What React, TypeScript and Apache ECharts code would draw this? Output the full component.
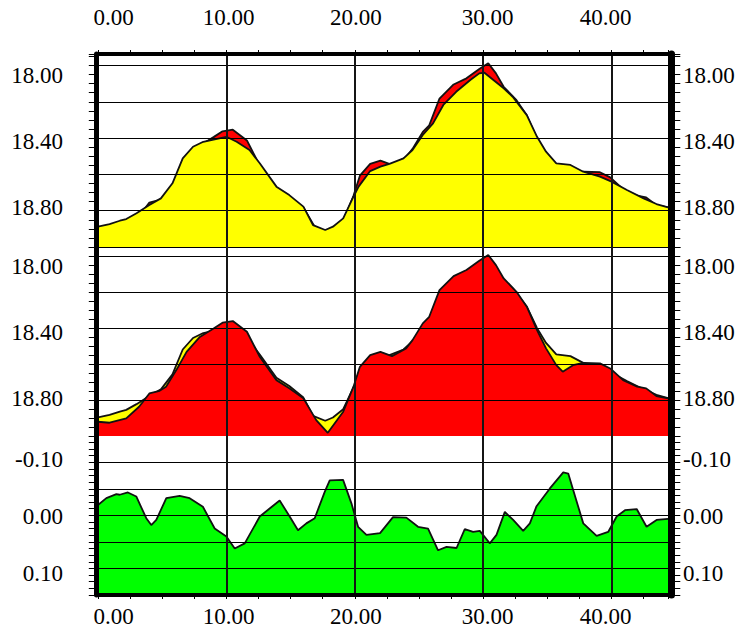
import React, { useEffect, useRef } from "react";
import * as echarts from "echarts";

// [x, value] pairs
const yellowPts: [number, number][] = [
  [0, 18.916], [0.9, 18.9], [1.7, 18.88], [2.2, 18.87], [3.0, 18.835], [4.0, 18.785], [4.9, 18.745],
  [5.8, 18.654], [6.6, 18.503], [7.4, 18.433], [8.2, 18.403], [9.0, 18.39], [10.0, 18.373], [10.8, 18.403],
  [11.8, 18.453], [12.6, 18.533], [13.9, 18.674], [14.9, 18.725], [16.0, 18.795], [16.75, 18.906],
  [17.7, 18.936], [18.3, 18.916], [19.1, 18.866], [19.9, 18.735], [20.3, 18.674], [21.2, 18.58],
  [22.0, 18.553], [22.7, 18.537], [23.8, 18.503], [24.5, 18.453], [25.3, 18.362], [26.1, 18.292],
  [26.9, 18.181], [27.9, 18.101], [29.0, 18.03], [29.7, 17.99], [30.1, 17.986], [30.8, 18.03],
  [31.6, 18.08], [32.3, 18.131], [33.4, 18.242], [34.2, 18.373], [34.9, 18.463], [35.7, 18.533],
  [36.8, 18.543], [37.8, 18.584], [39.1, 18.614], [40.0, 18.644], [41.2, 18.694], [42.5, 18.745],
  [43.5, 18.779], [44.4, 18.799],
];

const redPts: [number, number][] = [
  [0, 18.942], [0.9, 18.948], [2.2, 18.922], [3.2, 18.851], [4.0, 18.77], [4.8, 18.754], [5.3, 18.729],
  [6.1, 18.628], [6.9, 18.517], [7.9, 18.429], [9.0, 18.375], [9.7, 18.34], [10.5, 18.33], [11.6, 18.395],
  [12.6, 18.547], [13.9, 18.689], [14.9, 18.739], [16.0, 18.8], [17.0, 18.932], [17.9, 19.009],
  [19.1, 18.881], [19.9, 18.729], [20.4, 18.608], [21.2, 18.537], [22.0, 18.517], [22.9, 18.543],
  [24.0, 18.496], [24.5, 18.446], [25.3, 18.344], [25.8, 18.304], [26.6, 18.142], [27.7, 18.057],
  [28.7, 18.02], [29.7, 17.964], [30.4, 17.929], [31.0, 17.99], [31.6, 18.071], [32.6, 18.152],
  [33.4, 18.243], [34.2, 18.385], [34.9, 18.496], [35.7, 18.598], [36.2, 18.638], [37.0, 18.598],
  [37.8, 18.584], [39.1, 18.587], [39.9, 18.618], [40.9, 18.689], [42.0, 18.729], [42.7, 18.739],
  [43.5, 18.786], [44.4, 18.8],
];

const greenPts: [number, number][] = [
  [0, -0.02], [0.65, -0.032], [1.43, -0.039], [1.69, -0.038], [2.33, -0.042], [2.98, -0.035],
  [3.76, 0.003], [4.15, 0.015], [4.54, 0.006], [5.32, -0.032], [6.36, -0.036], [7.14, -0.032],
  [8.17, -0.017], [9.09, 0.021], [10.0, 0.035], [10.65, 0.056], [11.43, 0.047], [12.6, 0.0],
  [13.37, -0.014], [14.15, -0.028], [14.93, 0.0], [15.58, 0.024], [16.23, 0.012], [16.88, 0.003],
  [17.66, -0.043], [18.05, -0.063], [19.09, -0.064], [19.74, -0.023], [20.26, 0.018], [20.91, 0.032],
  [21.97, 0.029], [22.98, 0.001], [24.02, 0.002], [24.93, 0.018], [25.71, 0.021], [26.49, 0.059],
  [27.15, 0.053], [27.93, 0.055], [28.57, 0.022], [29.22, 0.027], [29.74, 0.025], [30.52, 0.047],
  [31.04, 0.032], [31.69, -0.008], [32.34, 0.006], [33.12, 0.025], [33.64, 0.012], [34.16, -0.018],
  [35.2, -0.049], [36.24, -0.077], [36.63, -0.075], [37.02, -0.046], [37.8, 0.012], [38.84, 0.034],
  [39.74, 0.027], [40.4, 0.0], [41.05, -0.011], [41.96, -0.013], [42.73, 0.018], [43.51, 0.006],
  [44.4, 0.004],
];

const priceTickLabels = [18.0, 18.4, 18.8];
const diffTickLabels = [-0.1, 0.0, 0.1];
const xTickLabels = [0, 10, 20, 30, 40];
const X_MIN = 0;
const X_MAX = 44.4;
const X_LABEL_STEP = 10;
const X_TICK_STEP = 2.5;

// horizontal nudges (px) of the x-axis labels, as placed in the reference
const xLabelNudge = [15.6, 2.3, 1, 4.4, -6];

const FONT = "Liberation Serif, Times New Roman, serif";
const LEFT = 98;
const WIDTH = 570;

const panels = [
  { top: 54, height: 193, min: 17.873, max: 19.0386, gridMax: 5.317, labels: priceTickLabels, minLine: true },
  { top: 247, height: 189, min: 17.88, max: 19.0286, gridMax: 5.265, labels: priceTickLabels, minLine: false },
  { top: 436, height: 159, min: -0.1406, max: 0.1371, gridMax: 5.99, labels: diffTickLabels, minLine: false },
];

function buildOption() {
  const grid: any[] = [];
  const xAxis: any[] = [];
  const yAxis: any[] = [];
  const series: any[] = [];
  const labelStyle = { fontFamily: FONT, fontSize: 23, color: "#000" };

  const rich: Record<string, any> = {};
  xTickLabels.forEach((_, k) => {
    const s = xLabelNudge[k];
    rich["p" + k] = {
      ...labelStyle,
      padding: s >= 0 ? [0, 0, 0, 2 * s] : [0, -2 * s, 0, 0],
    };
  });
  const xFmt = (v: number) => {
    const k = xTickLabels.findIndex((t) => Math.abs(t - v) < 1e-6);
    if (k < 0) return "";
    return `{p${k}|${v.toFixed(2)}}`;
  };

  panels.forEach((p, i) => {
    grid.push({ left: LEFT, top: p.top, width: WIDTH, height: p.height, show: false });

    const xLabelIdx = xAxis.length;
    const isTop = i === 0;
    const isBottom = i === panels.length - 1;
    xAxis.push({
      type: "value", gridIndex: i, min: X_MIN, max: X_MAX, interval: X_LABEL_STEP,
      position: isBottom ? "bottom" : "top",
      z: 5,
      axisLine: { show: false, onZero: false },
      axisTick: { show: false },
      axisLabel: {
        show: isTop || isBottom,
        ...labelStyle,
        margin: isTop ? 25 : 10,
        showMaxLabel: false,
        formatter: xFmt,
        rich,
      },
      splitLine: { show: true, showMinLine: false, showMaxLine: false, lineStyle: { color: "#151515", width: 2 } },
    });
    if (isTop || isBottom) {
      xAxis.push({
        type: "value", gridIndex: i, min: X_MIN, max: X_MAX, interval: X_TICK_STEP,
        position: isBottom ? "bottom" : "top",
        z: 6,
        axisLine: { show: true, onZero: false, lineStyle: { color: "#000", width: 4 } },
        axisTick: { show: true, length: 4, lineStyle: { color: "#000", width: 1 } },
        axisLabel: { show: false },
        splitLine: { show: false },
      });
    }

    const dataIdx = yAxis.length;
    const fmt = (v: number) => v.toFixed(2);
    yAxis.push({
      type: "value", gridIndex: i, min: p.min, max: p.max, inverse: true, position: "left",
      axisLine: { show: false, onZero: false }, axisTick: { show: false }, splitLine: { show: false },
      axisLabel: { ...labelStyle, margin: 35, customValues: p.labels, formatter: fmt },
    });
    yAxis.push({
      type: "value", gridIndex: i, min: p.min, max: p.max, inverse: true, position: "right",
      axisLine: { show: false, onZero: false }, axisTick: { show: false }, splitLine: { show: false },
      axisLabel: { ...labelStyle, margin: 15, customValues: p.labels, formatter: fmt },
    });
    // gridlines
    yAxis.push({
      type: "value", gridIndex: i, min: 0, max: p.gridMax, interval: 1, position: "left", z: 5,
      axisLine: { show: false, onZero: false }, axisTick: { show: false }, axisLabel: { show: false },
      splitLine: { show: true, showMinLine: p.minLine, showMaxLine: false, lineStyle: { color: "#000", width: 1.2 } },
    });
    // left ticks + thick border
    yAxis.push({
      type: "value", gridIndex: i, min: 0, max: p.gridMax, interval: 0.25, position: "left", offset: 2.2, z: 6,
      axisLine: { show: true, onZero: false, lineStyle: { color: "#000", width: 5 } },
      axisTick: { show: true, length: 7, lineStyle: { color: "#000", width: 1 } },
      axisLabel: { show: false }, splitLine: { show: false },
    });
    // right ticks + thick border
    yAxis.push({
      type: "value", gridIndex: i, min: 0, max: p.gridMax, interval: 0.25, position: "right", offset: 3.3, z: 6,
      axisLine: { show: true, onZero: false, lineStyle: { color: "#000", width: 7 } },
      axisTick: { show: true, length: 9, lineStyle: { color: "#000", width: 1 } },
      axisLabel: { show: false }, splitLine: { show: false },
    });

    const mk = (name: string, data: [number, number][], color: string, z: number) => ({
      name, type: "line", xAxisIndex: xLabelIdx, yAxisIndex: dataIdx, data,
      showSymbol: false, symbol: "none", z,
      lineStyle: { color: "#111", width: 1.8 },
      areaStyle: { color, opacity: 1, origin: "end" },
    });
    if (i === 0) {
      series.push(mk("red", redPts, "#ff0000", 2));
      series.push(mk("yellow", yellowPts, "#ffff00", 3));
    } else if (i === 1) {
      series.push(mk("yellow", yellowPts, "#ffff00", 2));
      series.push(mk("red", redPts, "#ff0000", 3));
    } else {
      series.push(mk("green", greenPts, "#00ff00", 2));
    }
  });

  return { animation: false, backgroundColor: "#ffffff", grid, xAxis, yAxis, series };
}

export default function App() {
  const ref = useRef<HTMLDivElement>(null);
  useEffect(() => {
    if (!ref.current) return;
    const chart = echarts.init(ref.current, undefined, { renderer: "svg" });
    chart.setOption(buildOption() as any);
    return () => chart.dispose();
  }, []);
  return <div ref={ref} style={{ position: "fixed", left: 0, top: 0, width: 739, height: 629 }} />;
}
